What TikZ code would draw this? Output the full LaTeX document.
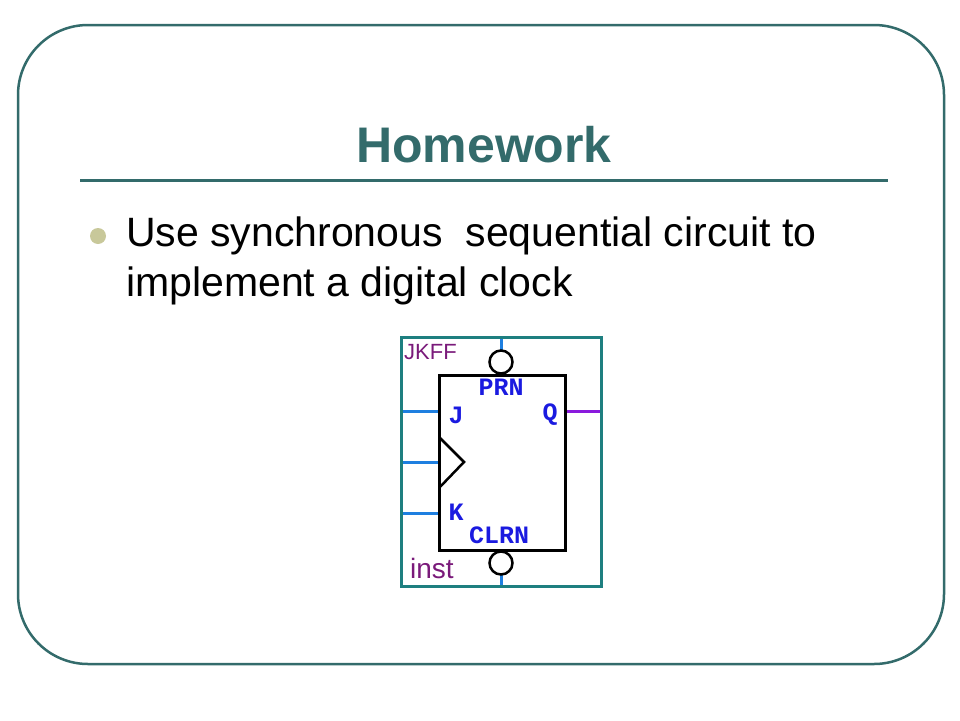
\documentclass[tikz,border=0pt]{standalone}
\usepackage{fontspec}
\setmainfont{Liberation Sans}
\newfontfamily\monob{Liberation Mono}
\definecolor{teal1}{HTML}{336B6B}
\definecolor{boxteal}{HTML}{1E7F80}
\definecolor{pinblue}{HTML}{1E7FE0}
\definecolor{lblblue}{HTML}{1A1AE0}
\definecolor{purp}{HTML}{7A1A7A}
\definecolor{qpurp}{HTML}{8A1ADD}
\definecolor{bul}{HTML}{C8C89A}
\begin{document}
\begin{tikzpicture}[x=1pt,y=-1pt,
  pin/.style={pinblue,line width=3pt},
  lbl/.style={font=\monob\bfseries\fontsize{25}{25}\selectfont,text=lblblue,inner sep=0},
  cmt/.style={font=\fontsize{22}{22}\selectfont,text=purp,inner sep=0}]
\useasboundingbox (0,0) rectangle (960,720);
\draw[teal1,line width=2.5pt,rounded corners=70pt] (18,25) rectangle (944,664);
\node[font=\bfseries\fontsize{50}{50}\selectfont,text=teal1] (title) at (484,145) {Homework};
\draw[teal1,line width=3pt] (80,180) -- (888,180);
\fill[bul] (98,236) circle (8);
\node[anchor=base west,align=left,font=\fontsize{41}{50}\selectfont,inner sep=0] (body) at (126,296) {Use synchronous\ \ sequential circuit to\\implement a digital clock};
% pin lines
\coordinate (tp) at (501,337); \coordinate (bp) at (501,586);
\draw[pin] (tp) -- (501,350);
\draw[pin] (501,575) -- (bp);
\draw[pin] (401,411) -- (439,411);
\draw[pin] (401,462) -- (439,462);
\draw[pin] (401,513) -- (439,513);
\draw[qpurp,line width=3pt] (565,411) -- (601,411);
\draw[boxteal,line width=3pt] (401,337) rectangle (601,586);
\draw[black,line width=3pt] (439,375) rectangle (565,550);
\draw[black,line width=2.5pt] (439,437) -- (464,462) -- (439,488);
\draw[black,line width=2.5pt,fill=white] (501,362) circle (11.5);
\draw[black,line width=2.5pt,fill=white] (501,563) circle (11.5);
\node[lbl] (prn) at (501,387) {PRN};
\node[lbl] (j) at (456,415) {J};
\node[lbl] (q) at (550,415) {Q};
\node[lbl] (k) at (456,512) {K};
\node[lbl] (clrn) at (499,535) {CLRN};
\node[cmt,anchor=west] (jkff) at (404,352) {JKFF};
\node[cmt,anchor=west,font=\fontsize{28}{28}\selectfont] (inst) at (410,568) {inst};
\end{tikzpicture}
\end{document}
